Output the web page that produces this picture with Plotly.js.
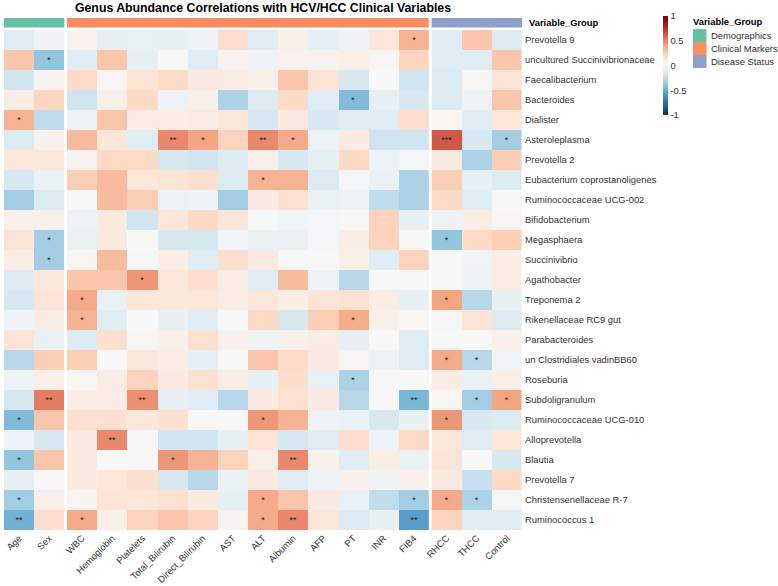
<!DOCTYPE html>
<html><head><meta charset="utf-8">
<script src="https://cdn.plot.ly/plotly-3.0.1.min.js"></script>
<style>html,body{margin:0;padding:0;background:#fff;}</style>
</head><body><div id="chart" style="width:778px;height:586px;"></div>
<script>
// ---------- DATA ----------
const genera = ["Prevotella 9","uncultured Succinivibrionaceae","Faecalibacterium","Bacteroides","Dialister",
  "Asteroleplasma","Prevotella 2","Eubacterium coprostanoligenes","Ruminococcaceae UCG-002","Bifidobacterium",
  "Megasphaera","Succinivibrio","Agathobacter","Treponema 2","Rikenellaceae RC9 gut","Parabacteroides",
  "un Clostridiales vadinBB60","Roseburia","Subdoligranulum","Ruminococcaceae UCG-010","Alloprevotella",
  "Blautia","Prevotella 7","Christensenellaceae R-7","Ruminococcus 1"];
const demographicVars = ["Age","Sex"];
const clinicalVars = ["WBC","Hemoglobin","Platelets","Total_Bilirubin","Direct_Bilirubin","AST","ALT","Albumin","AFP","PT","INR","FIB4"];
const statusVars = ["RHCC","THCC","Control"];
const groupNames = ["Demographics","Clinical Markers","Disease Status"];
const groupColors = ["#66C2A5","#FC8D62","#8DA0CB"];

// correlation per genus, columns: Age, Sex | 12 clinical | RHCC, THCC, Control
const corrValues = [
  [-0.12,-0.04, 0.04,-0.08,-0.07,-0.08,-0.06, 0.17,-0.12, 0.06,-0.09,-0.04, 0.12, 0.35, -0.12, 0.28,-0.14],
  [ 0.28,-0.40,-0.12, 0.28,-0.09, 0.00,-0.12, 0.03,-0.05, 0.04, 0.04, 0.06, 0.02, 0.22, -0.12,-0.12, 0.28],
  [-0.20, 0.03, 0.20, 0.02, 0.14, 0.20, 0.09, 0.08, 0.06, 0.28, 0.14,-0.17, 0.00,-0.20, -0.14, 0.02, 0.14],
  [ 0.08, 0.22,-0.20, 0.06, 0.20,-0.06, 0.05,-0.32,-0.14, 0.20,-0.12,-0.44,-0.09,-0.17, -0.14,-0.06, 0.28],
  [ 0.35,-0.25,-0.05, 0.28, 0.07, 0.07, 0.08, 0.12,-0.17, 0.09,-0.17,-0.12,-0.12, 0.17,  0.02,-0.12, 0.12],
  [-0.14, 0.05, 0.32, 0.12,-0.12, 0.48, 0.40, 0.23, 0.48, 0.38,-0.06, 0.09,-0.20,-0.20,  0.62,-0.17,-0.35],
  [ 0.12, 0.12, 0.03, 0.20, 0.20,-0.17,-0.20,-0.14, 0.05,-0.17,-0.09, 0.20,-0.06,-0.02,  0.09,-0.32, 0.25],
  [-0.17,-0.07, 0.25, 0.32, 0.12, 0.14, 0.17,-0.14, 0.35, 0.35,-0.14,-0.02,-0.07,-0.32,  0.25,-0.09,-0.14],
  [-0.35,-0.14, 0.00, 0.32, 0.25,-0.06,-0.05,-0.35, 0.09, 0.16,-0.07,-0.06,-0.25,-0.32,  0.20,-0.12, 0.00],
  [ 0.06, 0.06,-0.06, 0.09,-0.20, 0.12, 0.20, 0.12, 0.00,-0.03,-0.02, 0.00, 0.23,-0.09, -0.06, 0.07, 0.02],
  [ 0.14,-0.35,-0.07, 0.09, 0.00,-0.17,-0.17,-0.03,-0.07,-0.07,-0.02, 0.07, 0.23, 0.00, -0.40, 0.20, 0.25],
  [ 0.07,-0.35, 0.02, 0.32,-0.02, 0.08,-0.12, 0.17, 0.09, 0.00, 0.00, 0.06,-0.12, 0.23,  0.00,-0.03, 0.07],
  [-0.14, 0.12, 0.28, 0.28, 0.44, 0.12, 0.17, 0.08,-0.12, 0.32,-0.06,-0.28, 0.00, 0.00,  0.00,-0.05, 0.08],
  [-0.17, 0.14, 0.38,-0.07, 0.12, 0.12, 0.12, 0.07, 0.12, 0.08, 0.14, 0.16, 0.07,-0.09,  0.40,-0.28,-0.08],
  [-0.05, 0.07, 0.35,-0.12, 0.00,-0.08,-0.12, 0.00, 0.20,-0.17, 0.25, 0.37, 0.05, 0.02,  0.02, 0.14,-0.14],
  [ 0.14,-0.07,-0.14, 0.17, 0.02, 0.05, 0.16, 0.05,-0.05, 0.05, 0.08,-0.08, 0.00,-0.12,  0.00, 0.00, 0.05],
  [-0.28, 0.25, 0.25, 0.00, 0.12, 0.07,-0.09, 0.00, 0.28, 0.20, 0.09, 0.02,-0.06,-0.12,  0.38,-0.28,-0.03],
  [-0.05, 0.06, 0.01, 0.07, 0.23, 0.09, 0.16, 0.07,-0.09, 0.18,-0.07,-0.32, 0.00, 0.00,  0.07,-0.07, 0.06],
  [-0.17, 0.52, 0.07, 0.07, 0.46,-0.09,-0.12,-0.28, 0.09, 0.16, 0.09,-0.28, 0.00,-0.46,  0.02,-0.35, 0.40],
  [-0.44, 0.28, 0.16, 0.16, 0.12, 0.16, 0.00, 0.00, 0.44, 0.35,-0.06,-0.07,-0.17,-0.08,  0.44,-0.17,-0.14],
  [-0.06,-0.17, 0.09, 0.48, 0.00,-0.20,-0.20,-0.08, 0.14,-0.17,-0.12, 0.17,-0.06, 0.20,  0.12,-0.12, 0.12],
  [-0.40, 0.28, 0.09, 0.00, 0.00, 0.44, 0.35, 0.23, 0.06, 0.48, 0.05,-0.12, 0.07,-0.07,  0.14, 0.00,-0.17],
  [-0.09, 0.00, 0.09, 0.12, 0.17,-0.17,-0.28,-0.07, 0.09,-0.12,-0.06, 0.05,-0.05, 0.05,  0.09,-0.23, 0.20],
  [-0.35, 0.06, 0.02, 0.14, 0.12, 0.16, 0.09,-0.09, 0.38, 0.28, 0.09,-0.07,-0.25,-0.35,  0.38,-0.32,-0.02],
  [-0.48, 0.17, 0.38, 0.06, 0.23, 0.28, 0.23, 0.03, 0.38, 0.48, 0.12,-0.14,-0.08,-0.55,  0.23,-0.12,-0.12]
];

// significance marks: [genus, variable, stars]
const sigStars = [
  ["Prevotella 9","FIB4","*"],
  ["uncultured Succinivibrionaceae","Sex","*"],
  ["Bacteroides","PT","*"],
  ["Dialister","Age","*"],
  ["Asteroleplasma","Total_Bilirubin","**"],["Asteroleplasma","Direct_Bilirubin","*"],
  ["Asteroleplasma","ALT","**"],["Asteroleplasma","Albumin","*"],
  ["Asteroleplasma","RHCC","***"],["Asteroleplasma","Control","*"],
  ["Eubacterium coprostanoligenes","ALT","*"],
  ["Megasphaera","Sex","*"],["Megasphaera","RHCC","*"],
  ["Succinivibrio","Sex","*"],
  ["Agathobacter","Platelets","*"],
  ["Treponema 2","WBC","*"],["Treponema 2","RHCC","*"],
  ["Rikenellaceae RC9 gut","WBC","*"],["Rikenellaceae RC9 gut","PT","*"],
  ["un Clostridiales vadinBB60","RHCC","*"],["un Clostridiales vadinBB60","THCC","*"],
  ["Roseburia","PT","*"],
  ["Subdoligranulum","Sex","**"],["Subdoligranulum","Platelets","**"],["Subdoligranulum","FIB4","**"],
  ["Subdoligranulum","THCC","*"],["Subdoligranulum","Control","*"],
  ["Ruminococcaceae UCG-010","Age","*"],["Ruminococcaceae UCG-010","ALT","*"],["Ruminococcaceae UCG-010","RHCC","*"],
  ["Alloprevotella","Hemoglobin","**"],
  ["Blautia","Age","*"],["Blautia","Total_Bilirubin","*"],["Blautia","Albumin","**"],
  ["Christensenellaceae R-7","Age","*"],["Christensenellaceae R-7","ALT","*"],["Christensenellaceae R-7","FIB4","*"],
  ["Christensenellaceae R-7","RHCC","*"],["Christensenellaceae R-7","THCC","*"],
  ["Ruminococcus 1","Age","**"],["Ruminococcus 1","WBC","*"],["Ruminococcus 1","ALT","*"],
  ["Ruminococcus 1","Albumin","**"],["Ruminococcus 1","FIB4","**"]
];

// ---------- BUILD ----------
const allVars = demographicVars.concat(clinicalVars, statusVars);
const groups = [demographicVars, clinicalVars, statusVars];
const starGrid = genera.map(() => allVars.map(() => ""));
sigStars.forEach(([g, v, s]) => { starGrid[genera.indexOf(g)][allVars.indexOf(v)] = s; });

const FONT = '"Liberation Sans", Arial, sans-serif';
const colorscale = [
  [0.0,"#053061"],[0.1,"#2166AC"],[0.2,"#4393C3"],[0.3,"#92C5DE"],[0.4,"#D1E5F0"],
  [0.5,"#F7F7F7"],[0.6,"#FDDBC7"],[0.7,"#F4A582"],[0.8,"#D6604D"],[0.9,"#B2182B"],[1.0,"#67001F"]];

// pixel geometry
const W = 778, H = 586, L = 4, R = 522, T = 30, B = 530;
const plotW = R - L, plotH = B - T;
const gap = 2.7, colW = (plotW - 2 * gap) / allVars.length;
const px2x = p => (p - L) / plotW;
const py2y = p => (B - p) / plotH;

const axNames = ["x", "x2", "x3"];
const traces = [];
const layout = {
  width: W, height: H,
  margin: {l: L, r: W - R, t: T, b: H - B, pad: 0},
  paper_bgcolor: "#fff", plot_bgcolor: "#fff",
  font: {family: FONT, size: 9.4, color: "#333"},
  showlegend: false,
  title: {text: "<b>Genus Abundance Correlations with HCV/HCC Clinical Variables</b>",
          font: {family: FONT, size: 12.3, color: "#000"},
          xref: "paper", x: 0.5, xanchor: "center", yref: "container", y: 1 - 8 / H, yanchor: "middle"},
  yaxis: {anchor: "x3", side: "right", autorange: "reversed", showgrid: false, zeroline: false,
          ticks: "", showline: false, ticklabelstandoff: 2, tickfont: {size: 9.4, color: "#333"}},
  shapes: [], annotations: []
};

let startCol = 0;
groups.forEach((vars, gi) => {
  const x0 = startCol * colW + gi * gap;
  const x1 = x0 + vars.length * colW;
  const key = gi === 0 ? "xaxis" : "xaxis" + (gi + 1);
  layout[key] = {domain: [x0 / plotW, x1 / plotW], anchor: "y", tickangle: -45, showgrid: false,
                 zeroline: false, ticks: "", showline: false, ticklabelstandoff: 0,
                 tickfont: {size: 9.4, color: "#333"}};
  const z = corrValues.map(r => r.slice(startCol, startCol + vars.length));
  const txt = starGrid.map(r => r.slice(startCol, startCol + vars.length));
  const tr = {type: "heatmap", x: vars, y: genera, z: z, text: txt, texttemplate: "%{text}",
              textfont: {size: 9, color: "#222", family: FONT},
              xaxis: axNames[gi], yaxis: "y", colorscale: colorscale, zmin: -1, zmax: 1,
              showscale: gi === 2, hovertemplate: "%{y} / %{x}: %{z}<extra></extra>"};
  if (gi === 2) {
    tr.colorbar = {x: px2x(663), xanchor: "left", xref: "paper", xpad: 0, ypad: 0,
                   y: py2y(16), yanchor: "top", yref: "paper",
                   thickness: 5, thicknessmode: "pixels", len: 99, lenmode: "pixels",
                   outlinewidth: 0, ticks: "", tickvals: [-1, -0.5, 0, 0.5, 1],
                   ticktext: ["-1", "-0.5", "0", "0.5", "1"],
                   tickfont: {size: 9.4, color: "#333", family: FONT}};
  }
  traces.push(tr);
  // top group annotation bar
  layout.shapes.push({type: "rect", xref: axNames[gi] + " domain", x0: 0, x1: 1,
                      yref: "paper", y0: py2y(27.5), y1: py2y(18), fillcolor: groupColors[gi],
                      line: {width: 0}});
  startCol += vars.length;
});

layout.annotations.push({text: "<b>Variable_Group</b>", xref: "paper", yref: "paper",
  x: px2x(527), y: py2y(22.5), xanchor: "left", yanchor: "middle", showarrow: false,
  font: {size: 9.4, color: "#000"}});

// group legend
layout.annotations.push({text: "<b>Variable_Group</b>", xref: "paper", yref: "paper",
  x: px2x(691), y: py2y(21.5), xanchor: "left", yanchor: "middle", showarrow: false,
  font: {size: 9.4, color: "#000"}});
groupNames.forEach((g, i) => {
  const top = 29 + i * 13;
  layout.shapes.push({type: "rect", xref: "paper", yref: "paper", x0: px2x(693), x1: px2x(706.5),
    y0: py2y(top + 13), y1: py2y(top), fillcolor: groupColors[i], line: {width: 0}});
  layout.annotations.push({text: g, xref: "paper", yref: "paper", x: px2x(708.5), y: py2y(top + 6.5),
    xanchor: "left", yanchor: "middle", showarrow: false, font: {size: 9.4, color: "#333"}});
});

Plotly.newPlot("chart", traces, layout, {displayModeBar: false, staticPlot: true});
</script></body></html>
